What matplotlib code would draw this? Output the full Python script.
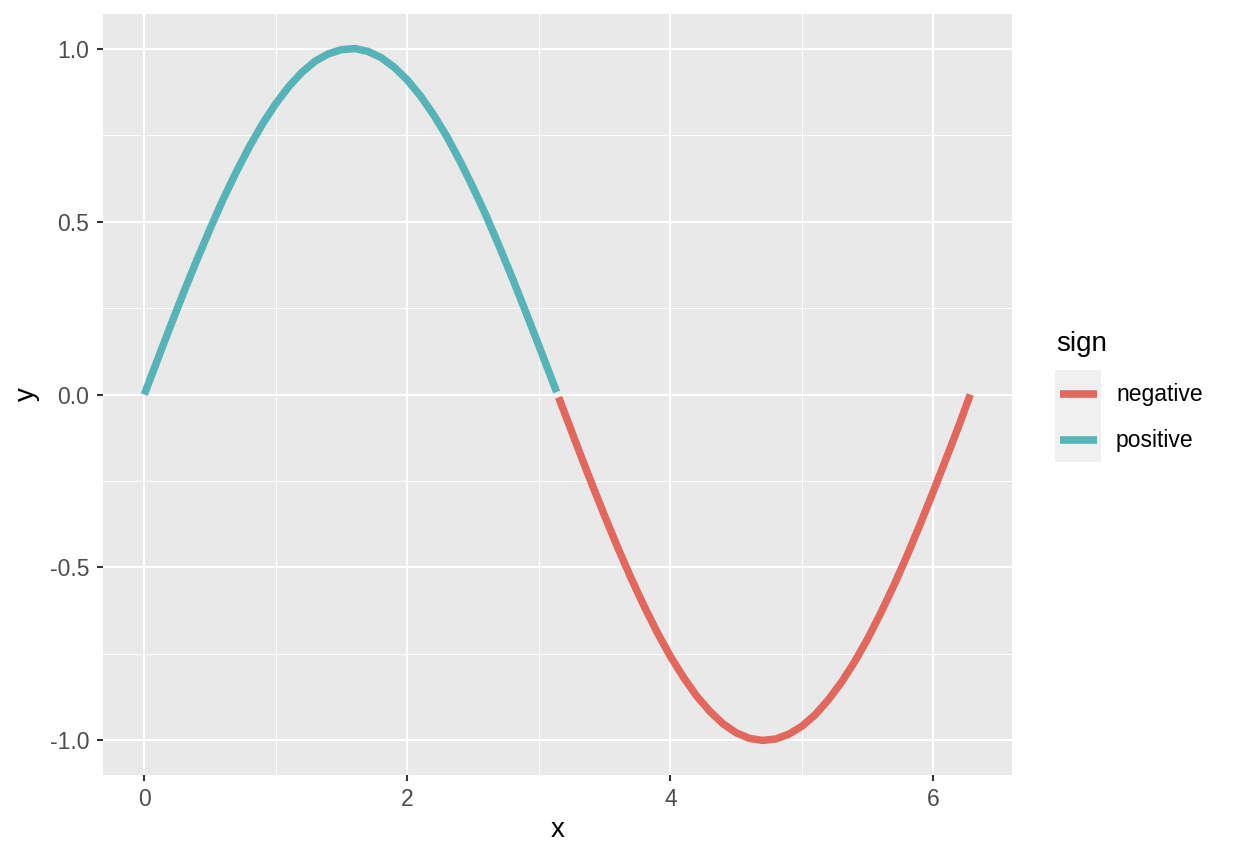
import matplotlib
matplotlib.use("Agg")
import matplotlib.pyplot as plt
from matplotlib.lines import Line2D
from matplotlib.patches import Rectangle

# Data
pos_x = [0.0, 0.1, 0.2, 0.3, 0.4, 0.5, 0.6, 0.7, 0.8, 0.9, 1.0, 1.1, 1.2, 1.3,
         1.4, 1.5, 1.6, 1.7, 1.8, 1.9, 2.0, 2.1, 2.2, 2.3, 2.4, 2.5, 2.6, 2.7,
         2.8, 2.9, 3.0, 3.1, 3.135]
pos_y = [0.000, 0.100, 0.199, 0.296, 0.389, 0.479, 0.565, 0.644, 0.717, 0.783,
         0.841, 0.891, 0.932, 0.964, 0.985, 0.997, 1.000, 0.992, 0.974, 0.946,
         0.909, 0.863, 0.808, 0.746, 0.675, 0.598, 0.516, 0.427, 0.335, 0.239,
         0.141, 0.042, 0.007]
neg_x = [3.15, 3.2, 3.3, 3.4, 3.5, 3.6, 3.7, 3.8, 3.9, 4.0, 4.1, 4.2, 4.3, 4.4,
         4.5, 4.6, 4.7, 4.8, 4.9, 5.0, 5.1, 5.2, 5.3, 5.4, 5.5, 5.6, 5.7, 5.8,
         5.9, 6.0, 6.1, 6.2, 6.28]
neg_y = [-0.008, -0.058, -0.158, -0.256, -0.351, -0.443, -0.530, -0.612, -0.688,
         -0.757, -0.818, -0.872, -0.916, -0.952, -0.978, -0.994, -1.000, -0.996,
         -0.982, -0.959, -0.926, -0.883, -0.832, -0.773, -0.706, -0.631, -0.551,
         -0.465, -0.374, -0.279, -0.182, -0.083, 0.000]
series_names = ["negative", "positive"]
series_colors = ["#E2685E", "#56B4B9"]

x_ticks = [0, 2, 4, 6]
x_ticklabels = ["0", "2", "4", "6"]
y_ticks = [-1.0, -0.5, 0.0, 0.5, 1.0]
y_ticklabels = ["-1.0", "-0.5", "0.0", "0.5", "1.0"]

plt.rcParams['font.family'] = ['Liberation Sans', 'DejaVu Sans']

W, H = 1234, 860
fig = plt.figure(figsize=(W / 100, H / 100), dpi=100)
fig.patch.set_facecolor("white")

L, R, T, B = 103, 1012, 14, 775
ax = fig.add_axes([L / W, 1 - B / H, (R - L) / W, (B - T) / H])
ax.set_facecolor("#E9E9E9")

ax.set_xlim(-0.314, 6.597)
ax.set_ylim(-1.1, 1.1)

ax.set_xticks(x_ticks)
ax.set_xticklabels(x_ticklabels)
ax.set_yticks(y_ticks)
ax.set_yticklabels(y_ticklabels)
ax.set_xticks([1, 3, 5], minor=True)
ax.set_yticks([-0.75, -0.25, 0.25, 0.75], minor=True)

ax.grid(which="major", color="white", linewidth=1.5)
ax.grid(which="minor", color="white", linewidth=0.75)
ax.set_axisbelow(True)
for s in ax.spines.values():
    s.set_visible(False)

ax.tick_params(which="major", length=4.5, width=1.5, color="#333333",
               labelsize=16.5, labelcolor="#4D4D4D")
ax.tick_params(axis="y", which="major", pad=5.5)
ax.tick_params(axis="x", which="major", pad=5)
ax.tick_params(which="minor", length=0)

ax.plot(neg_x, neg_y, color=series_colors[0], linewidth=5.4,
        solid_capstyle="butt", solid_joinstyle="round")
ax.plot(pos_x, pos_y, color=series_colors[1], linewidth=5.4,
        solid_capstyle="butt", solid_joinstyle="round")

ax.set_xlabel("x", fontsize=20, color="black", labelpad=4)
ax.set_ylabel("y", fontsize=20, color="black", labelpad=7)

# Legend (ggplot style)
fig.text(1056 / W, 1 - 344 / H, "sign", fontsize=20, ha="left", va="center")
fig.patches.append(Rectangle((1055 / W, 1 - 462 / H), 46 / W, 92 / H,
                             transform=fig.transFigure, facecolor="#F0F0F0",
                             edgecolor="none"))
for i, (name, col) in enumerate(zip(series_names, series_colors)):
    yk = 394 + 46 * i
    fig.lines.append(Line2D([1060 / W, 1097 / W], [1 - yk / H, 1 - yk / H],
                            transform=fig.transFigure, color=col, linewidth=5.5,
                            solid_capstyle="butt"))
    fig.text(1116 / W, 1 - yk / H, name, fontsize=16.5, ha="left", va="center",
             color="black")

fig.savefig("out.png", dpi=100)
